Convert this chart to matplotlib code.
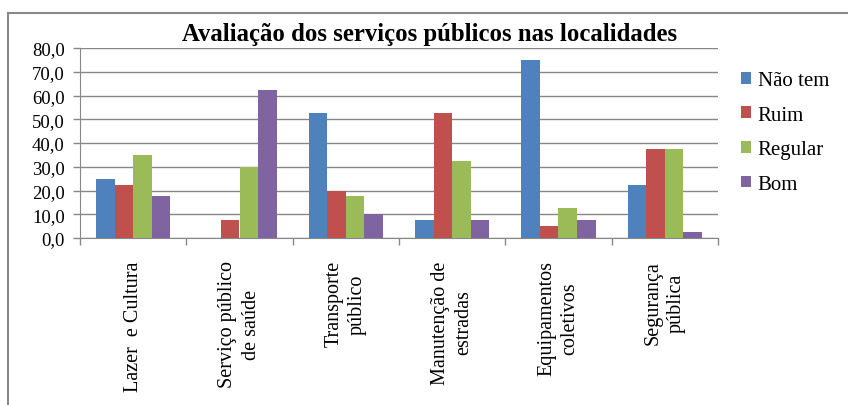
import numpy as np
import matplotlib.pyplot as plt
from matplotlib.lines import Line2D

plt.rcParams['font.family'] = ['Liberation Serif', 'DejaVu Serif']

categorias = ["Lazer  e Cultura", "Serviço público\nde saúde", "Transporte\npúblico",
              "Manutenção de\nestradas", "Equipamentos\ncoletivos", "Segurança\npública"]
series = ["Não tem", "Ruim", "Regular", "Bom"]
nao_tem = [25.0, 0.0, 52.5, 7.5, 75.0, 22.5]
ruim = [22.5, 7.5, 20.0, 52.5, 5.0, 37.5]
regular = [35.0, 30.0, 17.5, 32.5, 12.5, 37.5]
bom = [17.5, 62.5, 10.0, 7.5, 7.5, 2.5]
cores = ["#4F81BD", "#C0504D", "#9BBB59", "#8064A2"]

W, H = 848, 406
fig = plt.figure(figsize=(W / 100, H / 100), dpi=100)
ax = fig.add_axes([80 / W, 1 - 239 / H, (718 - 80) / W, (239 - 49) / H])

x = np.arange(len(categorias))
largura = 0.174
for i, (nome, vals) in enumerate(zip(series, [nao_tem, ruim, regular, bom])):
    ax.bar(x + (i - 1.5) * largura, vals, largura, color=cores[i], label=nome, zorder=3)

ax.set_xlim(-0.5, len(categorias) - 0.5)
ax.set_ylim(0, 80)
ax.set_yticks(np.arange(0, 81, 10))
ax.set_yticklabels([f"{v:.1f}".replace(".", ",") for v in np.arange(0, 81, 10)], fontsize=13.5)
ax.yaxis.grid(True, color="#878787", lw=1.0, zorder=0)

ax.set_xticks(x)
ax.set_xticklabels(categorias, rotation=90, fontsize=14.5, va="top", ha="center",
                   multialignment="center", linespacing=1.3)
ax.tick_params(axis="x", which="major", length=0, pad=16)
ax.set_xticks(np.arange(-0.5, len(categorias), 1), minor=True)
ax.tick_params(axis="x", which="minor", length=5, color="#878787", width=1.0)
ax.tick_params(axis="y", length=5, color="#878787", width=1.0, pad=6)

for s in ["top", "right"]:
    ax.spines[s].set_visible(False)
ax.spines["left"].set_color("#878787")
ax.spines["bottom"].set_color("#878787")

fig.text(430 / W, 1 - 34 / H, "Avaliação dos serviços públicos nas localidades",
         fontsize=17.8, fontweight="bold", ha="center", va="center")

fig.legend(loc="upper left", bbox_to_anchor=(741 / W, 1 - 72 / H), frameon=False,
           prop={"family": "Liberation Serif", "size": 15},
           handlelength=0.5, handleheight=0.5, handletextpad=0.3,
           labelspacing=0.75, borderpad=0, borderaxespad=0)

# moldura do gráfico
fig.add_artist(Line2D([8 / W, 8 / W], [0, 1 - 14 / H], color="#888888", lw=1.5))
fig.add_artist(Line2D([8 / W, 1], [1 - 14 / H, 1 - 14 / H], color="#888888", lw=1.5))

fig.savefig("out.png", dpi=100)
